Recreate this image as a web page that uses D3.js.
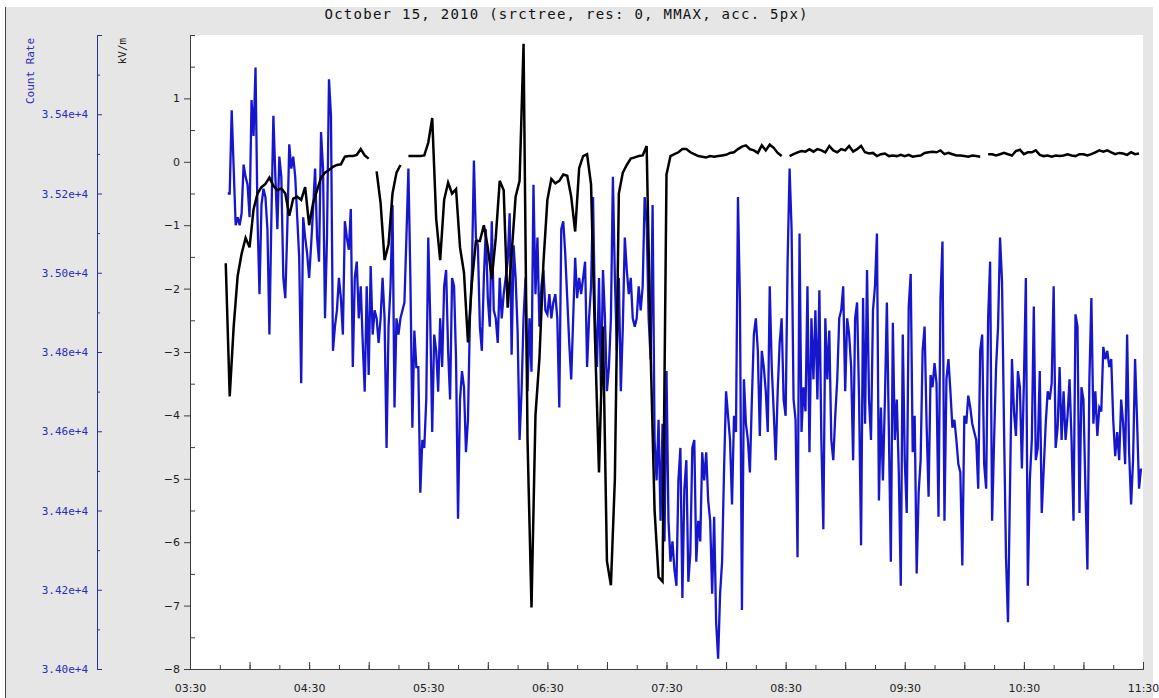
<!DOCTYPE html>
<html>
<head>
<meta charset="utf-8">
<script src="https://cdn.jsdelivr.net/npm/d3@7"></script>
<style>
  body { margin: 0; background: #fff; }
  svg text { font-family: "DejaVu Sans Mono", monospace; }
</style>
</head>
<body>
<div id="chart"></div>
<script>
// Count rate (blue, left outer axis) and field mill kV/m (black) for one morning

let width = 1159,
    height = 698,
    margin = ({ top: 35, right: 16, bottom: 29, left: 190 });

const title = "October 15, 2010 (srctree, res: 0, MMAX, acc. 5px)";

// count rate: one sample a minute from 03:49
const countStart = [3, 49], countStep = 1;
const countRate = [
  35200, 35200, 35410, 35263, 35120, 35140, 35120, 35150, 35273, 35242,
  35222, 35140, 35436, 35345, 35518, 35140, 34946, 35171, 35212, 35191,
  35110, 34844, 35140, 35396, 35242, 35110, 35293, 35242, 34987, 34936,
  35110, 35324, 35263, 35293, 35242, 35140, 35038, 34721, 35140, 35089,
  35048, 34987, 35069, 35161, 35263, 35089, 35028, 35355, 35263, 34885,
  35089, 35488, 35396, 34803, 34864, 34905, 34987, 34936, 34844, 35130,
  35089, 35058, 35161, 34762, 34987, 35028, 34885, 34966, 34823, 34700,
  34966, 34742, 35017, 34844, 34905, 34885, 34823, 34885, 34987, 34885,
  34558, 34864, 34966, 35171, 34660, 34885, 34844, 34885, 34905, 34925,
  35089, 35263, 34987, 34609, 34854, 34762, 34762, 34445, 34578, 34558,
  34680, 35089, 34885, 34598, 34844, 34803, 34700, 34885, 34762, 34966,
  35007, 34803, 34680, 34987, 34966, 34782, 34379, 34680, 34752, 34711,
  34547, 34629, 34885, 35007, 35283, 35089, 35069, 34864, 34803, 34987,
  35110, 34936, 34864, 35130, 34905, 34885, 34823, 34987, 34885, 34946,
  34987, 35028, 35150, 34793, 35069, 34987, 34854, 34578, 34701, 34885,
  34987, 34701, 34885, 34750, 35222, 34946, 35089, 34864, 34966, 35007,
  34905, 34895, 34946, 34885, 34925, 34946, 34885, 34660, 35110, 35130,
  35048, 34936, 34823, 34731, 34885, 35038, 34936, 34987, 34946, 34987,
  35028, 34762, 34885, 34966, 35191, 34885, 34762, 34987, 34701, 35007,
  34885, 34701, 34762, 34885, 35242, 34987, 34803, 34987, 34701, 34864,
  35089, 35007, 34946, 34987, 34885, 34864, 34885, 34966, 34905, 34966,
  35191, 35130, 34885, 34782, 35171, 34578, 34476, 34629, 34374, 34619,
  34322, 34752, 34374, 34271, 34322, 34251, 34210, 34476, 34558, 34179,
  34455, 34527, 34220, 34292, 34558, 34578, 34271, 34374, 34322, 34547,
  34476, 34547, 34425, 34374, 34190, 34384, 34118, 34026, 34190, 34271,
  34506, 34701, 34639, 34578, 34415, 34639, 34598, 35191, 34925, 34149,
  34731, 34619, 34578, 34496, 34680, 34844, 34885, 34803, 34588, 34803,
  34762, 34701, 34598, 34966, 34762, 34650, 34527, 34701, 34823, 34885,
  34680, 34639, 35028, 35263, 35110, 34680, 34629, 34282, 35099, 34598,
  34711, 34650, 34966, 34547, 34885, 34731, 34905, 34680, 34956, 34578,
  34353, 34885, 34731, 34854, 34578, 34527, 34639, 34731, 34885, 34905,
  34966, 34701, 34885, 34844, 34762, 34527, 34885, 34925, 34680, 34312,
  34936, 34619, 35007, 34680, 34578, 34905, 34966, 35099, 34425, 34660,
  34476, 34680, 34925, 34598, 34271, 34874, 34578, 34680, 34496, 34210,
  34844, 34527, 34394, 34915, 34997, 34547, 34639, 34241, 34445, 34527,
  34803, 34864, 34619, 34435, 34742, 34711, 34772, 34721, 34384, 34936,
  35079, 34374, 34731, 34782, 34701, 34609, 34629, 34578, 34517, 34496,
  34261, 34639, 34619, 34690, 34660, 34619, 34598, 34578, 34455, 34803,
  34844, 34517, 34455, 34885, 35028, 34374, 34578, 34762, 34864, 35089,
  34977, 34609, 34282, 34118, 34455, 34782, 34650, 34588, 34752, 34711,
  34506, 34721, 34987, 34210, 34476, 34578, 34915, 34527, 34558, 34752,
  34394, 34506, 34619, 34701, 34680, 34721, 34966, 34558, 34609, 34762,
  34578, 34701, 34578, 34639, 34731, 34578, 34374, 34895, 34864, 34394,
  34711, 34680, 34455, 34251, 34731, 34936, 34619, 34701, 34588, 34660,
  34650, 34813, 34782, 34803, 34762, 34782, 34629, 34537, 34598, 34527,
  34680, 34619, 34517, 34844, 34547, 34415, 34527, 34782, 34629, 34455,
  34506
];

// field: one sample every 2 minutes from 03:48, null = gap in the record
const fieldStart = [3, 48], fieldStep = 2;
const fieldKVm = [
  -1.6, -3.7, -2.6, -1.8, -1.45, -1.2, -1.35, -0.75, -0.5, -0.4,
  -0.35, -0.25, -0.38, -0.45, -0.42, -0.5, -0.85, -0.58, -0.55, -0.6,
  -0.4, -1.0, -0.65, -0.45, -0.25, -0.17, -0.13, -0.08, -0.05, -0.04,
  0.08, 0.09, 0.09, 0.11, 0.2, 0.1, 0.05, null, -0.15, -0.65,
  -1.55, -1.3, -0.5, -0.17, -0.05, null, 0.09, 0.09, 0.09, 0.09,
  0.1, 0.3, 0.69, -0.9, -1.55, -0.6, -0.33, -0.5, -0.43, -1.35,
  -1.75, -2.85, -1.9, -1.25, -1.25, -1.0, -1.35, -1.85, -1.2, -0.3,
  -0.45, -2.3, -1.45, -0.55, -0.3, 1.86, -4.38, -7.03, -4.0, -3.1,
  -1.6, -0.6, -0.27, -0.34, -0.3, -0.2, -0.22, -0.55, -1.1, -0.1,
  0.09, 0.12, -0.36, -2.8, -4.9, -2.6, -6.3, -6.68, -5.0, -0.5,
  -0.17, -0.05, 0.05, 0.07, 0.09, 0.1, 0.25, -3.0, -5.5, -6.55,
  -6.62, -0.2, 0.09, 0.12, 0.15, 0.2, 0.2, 0.15, 0.12, 0.09,
  0.08, 0.07, 0.09, 0.08, 0.09, 0.1, 0.11, 0.14, 0.15, 0.2,
  0.24, 0.26, 0.2, 0.18, 0.14, 0.26, 0.18, 0.27, 0.22, 0.14,
  0.09, null, 0.09, 0.12, 0.15, 0.17, 0.16, 0.2, 0.16, 0.2,
  0.18, 0.15, 0.25, 0.18, 0.15, 0.2, 0.18, 0.25, 0.16, 0.2,
  0.25, 0.15, 0.13, 0.14, 0.09, 0.12, 0.13, 0.09, 0.1, 0.09,
  0.11, 0.09, 0.11, 0.08, 0.09, 0.1, 0.14, 0.15, 0.16, 0.15,
  0.18, 0.12, 0.14, 0.12, 0.1, 0.1, 0.09, 0.08, 0.1, 0.09,
  0.08, null, 0.12, 0.12, 0.1, 0.12, 0.14, 0.12, 0.1, 0.17,
  0.19, 0.12, 0.15, 0.15, 0.18, 0.11, 0.09, 0.1, 0.08, 0.1,
  0.09, 0.1, 0.12, 0.1, 0.09, 0.12, 0.12, 0.1, 0.12, 0.15,
  0.18, 0.16, 0.18, 0.15, 0.12, 0.14, 0.13, 0.11, 0.15, 0.12,
  0.13
];

const timeDomain = [[3, 30], [11, 30]];
const kvDomain = [-8, 2];
const kvLabels = [-8, -7, -6, -5, -4, -3, -2, -1, 0, 1];
const countDomain = [34000, 35600];
const countLabels = [34000, 34200, 34400, 34600, 34800, 35000, 35200, 35400];

const day = (h, m) => new Date(2010, 9, 15, h, m);
const countTimes = countRate.map((_, i) => day(countStart[0], countStart[1] + i * countStep));
const fieldTimes = fieldKVm.map((_, i) => day(fieldStart[0], fieldStart[1] + i * fieldStep));

const svg = d3.select("#chart")
    .append("svg")
    .attr("width", width)
    .attr("height", height);

// window panel
svg.append("rect")
    .attr("x", 5).attr("y", 7)
    .attr("width", 1148).attr("height", height - 7)
    .attr("fill", "#e6e6e6");
svg.append("line")
    .attr("x1", 5.5).attr("x2", 5.5).attr("y1", 7).attr("y2", height)
    .attr("stroke", "#444");

let x = d3.scaleTime()
    .domain(timeDomain.map(d => day(d[0], d[1])))
    .range([margin.left, width - margin.right]);

let yF = d3.scaleLinear()
    .domain(kvDomain)
    .range([height - margin.bottom, margin.top]);

let yC = d3.scaleLinear()
    .domain(countDomain)
    .range([height - margin.bottom, margin.top]);

svg.append("rect")
    .attr("x", margin.left).attr("y", margin.top)
    .attr("width", width - margin.right - margin.left)
    .attr("height", height - margin.bottom - margin.top)
    .attr("fill", "#fff");

svg.append("text")
    .attr("x", 566).attr("y", 19)
    .attr("text-anchor", "middle")
    .attr("textLength", 483)
    .attr("lengthAdjust", "spacing")
    .style("font-size", "14px")
    .attr("fill", "#111")
    .text(title);

// bottom time axis: minor ticks each 15 min, taller each 30 min, labels hourly
const fmt = d3.timeFormat("%H:%M");
const xMinor = svg.append("g")
    .attr("transform", `translate(0,${height - margin.bottom})`)
    .call(d3.axisBottom(x).ticks(d3.timeMinute.every(15)).tickSize(-4).tickFormat(""));
const xMajor = svg.append("g")
    .attr("transform", `translate(0,${height - margin.bottom})`)
    .call(d3.axisBottom(x).ticks(d3.timeMinute.every(30)).tickSize(-7).tickPadding(15)
        .tickFormat(d => d.getMinutes() === 30 ? fmt(d) : ""));
xMajor.selectAll("text").style("font-family", "DejaVu Sans").style("font-size", "11px").attr("fill", "#222");

// kV/m axis
const kvMinor = svg.append("g")
    .attr("transform", `translate(${margin.left},0)`)
    .call(d3.axisRight(yF).tickValues(d3.range(-7.5, 2.1, 1)).tickSize(5).tickFormat(""));
const kvAxis = svg.append("g")
    .attr("transform", `translate(${margin.left},0)`)
    .call(d3.axisLeft(yF).tickValues(kvLabels).tickSize(6).tickSizeOuter(-5).tickPadding(4));
kvAxis.selectAll("text").style("font-family", "DejaVu Sans").style("font-size", "11px").attr("fill", "#222");

// count rate axis, ticks pointing right
const countX = 97;
const cMinor = svg.append("g")
    .attr("transform", `translate(${countX},0)`)
    .call(d3.axisLeft(yC).tickValues(d3.range(34100, 35600, 200)).tickSize(-3).tickFormat(""));
const cAxis = svg.append("g")
    .attr("transform", `translate(${countX},0)`)
    .call(d3.axisLeft(yC).tickValues(countLabels).tickSize(-5).tickSizeOuter(-5).tickPadding(9)
        .tickFormat(d3.format(".2e")));
cAxis.selectAll("text").style("font-size", "11px").attr("fill", "#2b2bbd");

[xMinor, xMajor, kvMinor, kvAxis].forEach(g => g.selectAll("line, path").attr("stroke", "#3c3c3c"));
[cMinor, cAxis].forEach(g => g.selectAll("line, path").attr("stroke", "#30309a"));

svg.append("text")
    .attr("transform", "translate(34,71) rotate(-90)")
    .attr("text-anchor", "middle")
    .style("font-size", "11px")
    .attr("fill", "#2b2bbd")
    .text("Count Rate");

svg.append("text")
    .attr("transform", "translate(126,51) rotate(-90)")
    .attr("text-anchor", "middle")
    .style("font-size", "11px")
    .attr("fill", "#222")
    .text("kV/m");

const countLine = d3.line()
    .x((d, i) => x(countTimes[i]))
    .y(d => yC(d));

const fieldLine = d3.line()
    .defined(d => d !== null)
    .x((d, i) => x(fieldTimes[i]))
    .y(d => yF(d));

svg.append("path")
    .datum(countRate)
    .attr("fill", "none")
    .attr("stroke", "#1616cc")
    .attr("stroke-width", 2.3)
    .attr("d", countLine);

svg.append("path")
    .datum(fieldKVm)
    .attr("fill", "none")
    .attr("stroke", "#000")
    .attr("stroke-width", 2.5)
    .attr("d", fieldLine);
</script>
</body>
</html>
